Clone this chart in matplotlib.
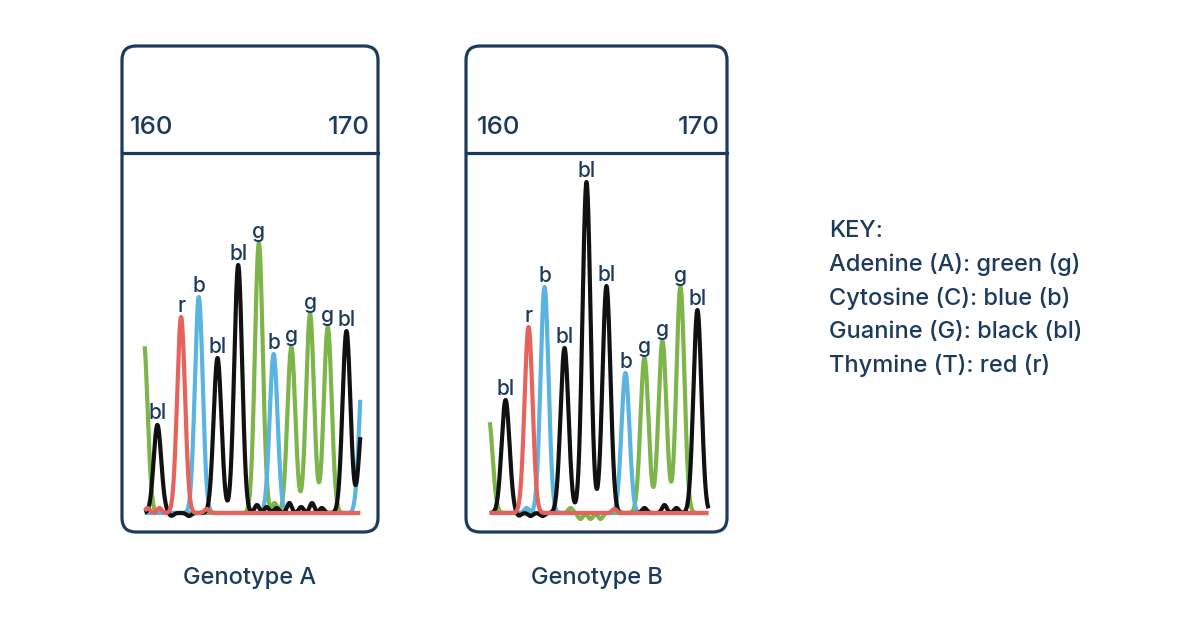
import numpy as np
import matplotlib.pyplot as plt
from matplotlib.patches import FancyBboxPatch
from matplotlib.transforms import blended_transform_factory

plt.rcParams["font.family"] = ["Inter", "DejaVu Sans"]
plt.rcParams["font.weight"] = 500

NAVY = "#1c3a5e"
dye_colors = {"g": "#7db54a", "b": "#5ab4e2", "bl": "#111111", "r": "#e8625c"}

# peak calls, genotype A (bp position, height, dye, label)
pos_a = [159.6, 160.3, 161.5, 162.4, 163.35, 164.4, 165.45, 166.2, 167.1, 168.05, 168.95, 169.9, 170.75, 170.75]
height_a = [172, 89, 196, 216, 155, 248, 270, 159, 166, 199, 186, 182, 150, 100]
dye_a = ["g", "bl", "r", "b", "bl", "bl", "g", "b", "g", "g", "g", "bl", "b", "bl"]
call_a = ["", "bl", "r", "b", "bl", "bl", "g", "b", "g", "g", "g", "bl", "", ""]

# small baseline bumps, genotype A
noise_pos_a = [160.0, 160.5, 161.0, 161.9, 165.35, 165.85, 166.35, 167.0, 167.6, 168.15, 168.65, 166.25, 159.8, 160.4, 162.8]
noise_height_a = [-3, -3, -3, -3, 8, 6, 5, 10, 6, 10, 5, 10, 5, 5, 4]
noise_dye_a = ["bl", "bl", "bl", "bl", "bl", "bl", "bl", "bl", "bl", "bl", "bl", "g", "r", "r", "r"]

# peak calls, genotype B
pos_b = [159.5, 160.35, 161.5, 162.3, 163.3, 164.4, 165.4, 166.35, 167.3, 168.2, 169.1, 169.95]
height_b = [95, 113, 186, 226, 165, 331, 227, 140, 155, 172, 226, 203]
dye_b = ["g", "bl", "r", "b", "bl", "bl", "bl", "b", "g", "g", "g", "bl"]
call_b = ["", "bl", "r", "b", "bl", "bl", "bl", "b", "g", "g", "g", "bl"]

# small baseline bumps, genotype B
noise_pos_b = [161.0, 161.6, 162.2, 164.1, 164.6, 165.1, 167.3, 168.3, 168.9, 161.4, 163.6, 165.8]
noise_height_b = [-3, -3, -3, -6, -6, -6, 5, 8, 5, 5, 5, 4]
noise_dye_b = ["bl", "bl", "bl", "g", "g", "g", "bl", "bl", "bl", "b", "g", "r"]

tick_labels = ["160", "170"]
key_lines = ["KEY:", "Adenine (A): green (g)", "Cytosine (C): blue (b)",
             "Guanine (G): black (bl)", "Thymine (T): red (r)"]

W, H = 1200, 630
fig = plt.figure(figsize=(12, 6.3), dpi=100)
deco = fig.add_axes([0, 0, 1, 1])
deco.set_xlim(0, W)
deco.set_ylim(H, 0)
deco.axis("off")


def trace(x, pos, height, dye, which, sigma):
    y = np.zeros_like(x)
    for p, h, d in zip(pos, height, dye):
        if d == which:
            y += h * np.exp(-0.5 * ((x - p) / sigma) ** 2)
    return y


def panel(left, right, xlim, span, pos, height, dye, call, npos, nheight, ndye, title):
    top, bottom = 46, 532
    deco.add_patch(FancyBboxPatch((left, top), right - left, bottom - top,
                                  boxstyle="round,pad=0,rounding_size=14",
                                  fc="white", ec=NAVY, lw=2.3))
    deco.plot([left, right], [153, 153], color=NAVY, lw=2.3)
    deco.text((left + right) / 2, 578, title, ha="center", va="center",
              fontsize=17, color=NAVY)

    ax = fig.add_axes([(left + 2) / W, 1 - 525 / H, (right - left - 4) / W, 365 / H])
    ax.set_xlim(*xlim)
    ax.set_ylim(-12, 353)
    ax.axis("off")
    x = np.linspace(span[0], span[1], 1500)
    for d in ["g", "b", "bl", "r"]:
        y = trace(x, pos, height, dye, d, 0.2) + trace(x, npos, nheight, ndye, d, 0.12)
        ax.plot(x, y, color=dye_colors[d], lw=3.0, solid_capstyle="butt")
    for p, h, c in zip(pos, height, call):
        if c:
            ax.text(p, h + 1, c, ha="center", va="bottom", fontsize=15, color=NAVY)
    tr = blended_transform_factory(ax.transData, deco.transData)
    for t, v in zip(tick_labels, [160, 170]):
        ax.text(v, 128, t, transform=tr, ha="center", va="center",
                fontsize=18.5, color=NAVY)


panel(122, 378, (158.6, 171.4), (159.65, 170.6), pos_a, height_a, dye_a, call_a,
      noise_pos_a, noise_height_a, noise_dye_a, "Genotype A")
panel(466, 727, (158.47, 171.33), (159.56, 170.5), pos_b, height_b, dye_b, call_b,
      noise_pos_b, noise_height_b, noise_dye_b, "Genotype B")

for i, line in enumerate(key_lines):
    deco.text(829, 231 + i * 33.7, line, ha="left", va="center", fontsize=17, color=NAVY)

fig.savefig("out.png", dpi=100, facecolor="white")
